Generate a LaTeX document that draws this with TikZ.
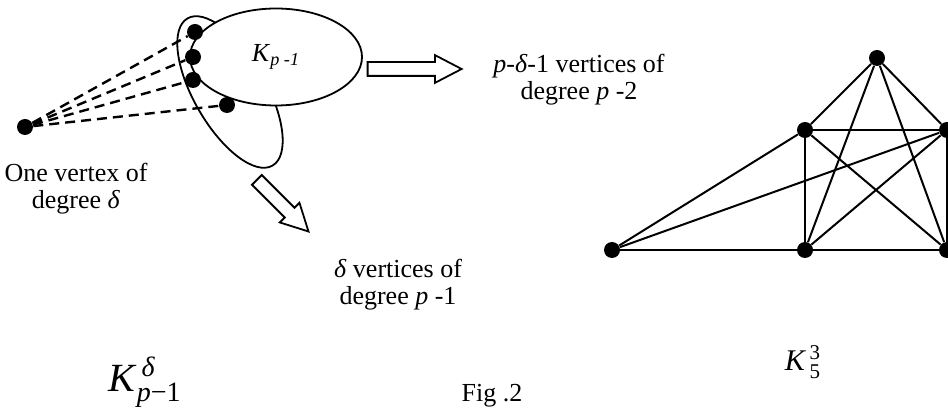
\documentclass[tikz,border=0pt]{standalone}
\usepackage{fontspec}
\usepackage{amsmath}
\setmainfont{Liberation Serif}
\usepackage{tikz}
\usetikzlibrary{shapes.geometric, shapes.arrows}

\tikzset{
  vtx/.style={circle, fill=black, inner sep=0pt, minimum size=8pt},
  hollow/.style={single arrow, draw, line width=0.9pt, fill=white, inner xsep=0pt,
                 inner ysep=3pt, single arrow head extend=3.5pt, single arrow tip angle=55},
  caption/.style={align=center, font=\fontsize{13}{13.5}\selectfont}
}

\begin{document}
\begin{tikzpicture}[x=0.5pt, y=-0.5pt]
    \useasboundingbox (0,0) rectangle (948,416);
    % left picture: one vertex joined to K_{p-1}
    \node[ellipse, draw, line width=0.9pt, rotate=-60,
          minimum width=85pt, minimum height=36pt] (loop) at (230,92) {};
    \node[ellipse, draw, line width=0.9pt, fill=white, minimum width=86pt, minimum height=48.5pt,
          font=\fontsize{13}{15}\selectfont] (kp) at (276,57) {\textit{K}$_{\text{\itshape p -1}}$};
    \node[vtx] (v) at (25,127) {};
    \node[vtx] (u1) at (195,32) {};
    \node[vtx] (u2) at (193,57) {};
    \node[vtx] (u3) at (193,80) {};
    \node[vtx] (u4) at (227,105) {};
    \foreach \i in {1,...,4}
      \draw[dash pattern=on 5pt off 3pt, line width=1.2pt] (v) -- (u\i);

    \node[hollow, minimum height=47pt] (arrright) at (408,69) {};
    \node[hollow, minimum height=36.5pt, rotate=-45] (arrdown) at (278,201) {};

    \node[caption] (onevtx) at (76,189) {One vertex of\\degree \textit{δ}};
    \node[caption] (toptxt) at (579,80) {\textit{p}-\textit{δ}-1 vertices of\\degree \textit{p} -2};
    \node[caption] (lowtxt) at (398,285) {\textit{δ} vertices of\\degree \textit{p} -1};

    % right picture: K_5 with one more vertex of degree 3
    \node[vtx] (a) at (877,58) {};
    \node[vtx] (b) at (805,130) {};
    \node[vtx] (c) at (947,130) {};
    \node[vtx] (d) at (805,250) {};
    \node[vtx] (e) at (947,250) {};
    \node[vtx] (f) at (612,250) {};
    \foreach \s/\t in {a/b,a/c,a/d,a/e,b/c,b/d,b/e,c/d,c/e,d/e,f/b,f/c,f/d}
      \draw[line width=1pt] (\s) -- (\t);

    % names
    \node[font=\fontsize{20}{24}\selectfont] (kleft) at (145,382)
      {\textit{K}$^{\,\text{\itshape δ}}_{\text{\itshape p}\text{−1}}$};
    \node[font=\fontsize{15}{17}\selectfont] (kright) at (803,362)
      {\textit{K}$^{\,\text{3}}_{\,\text{5}}$};
    \node[font=\fontsize{13}{15}\selectfont] (fig) at (492,396) {Fig .2};
\end{tikzpicture}
\end{document}
